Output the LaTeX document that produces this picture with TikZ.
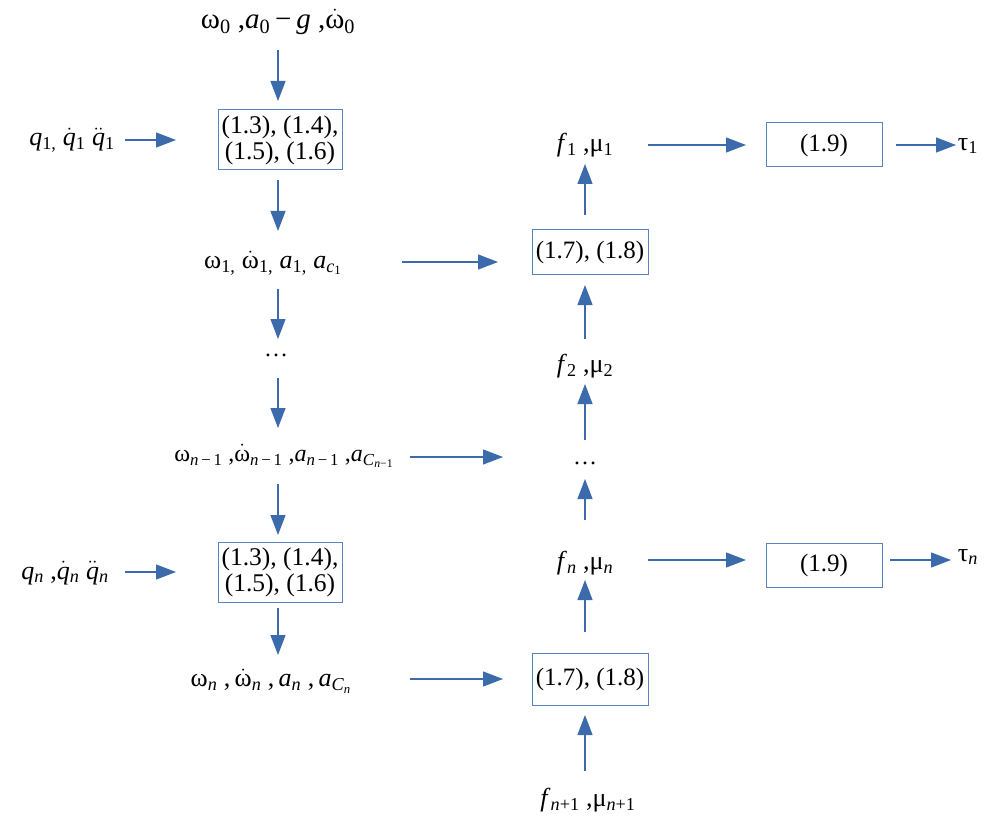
\documentclass[tikz,border=0pt]{standalone}
\usepackage{amsmath}
\usepackage{fontspec}
\setmainfont{Liberation Serif}
\usetikzlibrary{arrows.meta}
\definecolor{arr}{HTML}{3B6BAA}
\definecolor{bx}{HTML}{5B82C0}
\newcommand\dt[1]{\ensuremath{\dot{\text{#1}}}}
\newcommand\ddt[1]{\ensuremath{\ddot{\text{#1}}}}
\newcommand\sbs[1]{\textsubscript{#1}}
\newcommand\ii[1]{\textit{#1}}
\begin{document}
\begin{tikzpicture}[x=1pt,y=-1pt,
  flow/.style={draw=arr, line width=1.2pt, -{Triangle[length=20pt,width=15pt]}},
  eqbox/.style={draw=bx, line width=1pt, inner sep=2pt, align=center, font=\fontsize{25.5}{26}\selectfont},
  eqbox2/.style={draw=bx, line width=1pt, align=center, font=\fontsize{25}{26}\selectfont},
  lbl/.style={inner sep=1pt, font=\fontsize{26}{28}\selectfont},
  slbl/.style={inner sep=1pt, font=\fontsize{24}{26}\selectfont}]
\useasboundingbox (0,0) rectangle (1004,821);
% left column
\node[lbl, font=\fontsize{29}{30}\selectfont] (top) at (278,22) {ω\sbs{0} ,\ii{a}\sbs{0}\,−\,\ii{g} ,\dt{ω}\sbs{0}};
\node[eqbox, minimum width=124pt, minimum height=60pt] (b1) at (280,140) {(1.3), (1.4),\\(1.5), (1.6)};
\node[lbl] (q1) at (72,140) {\ii{q}\sbs{1,} \dt{\ii{q}}\sbs{1} \ddt{\ii{q}}\sbs{1}};
\node[slbl, font=\fontsize{26}{28}\selectfont] (w1) at (273,263) {ω\sbs{1,} \dt{ω}\sbs{1,} \ii{a}\sbs{1,} \ii{a}\sbs{\ii{c}\sbs{1}}};
\node[slbl] (d1) at (276,355) {…};
\node[slbl] (wn1) at (284,456) {ω\sbs{\ii{n}\,−\,1} ,\dt{ω}\sbs{\ii{n}\,−\,1} ,\ii{a}\sbs{\ii{n}\,−\,1} ,\ii{a}\sbs{\ii{C}\sbs{\ii{n}−1}}};
\node[eqbox, minimum width=124pt, minimum height=60pt] (b2) at (280,572) {(1.3), (1.4),\\(1.5), (1.6)};
\node[lbl] (qn) at (65,573) {\ii{q}\sbs{\ii{n}} ,\dt{\ii{q}}\sbs{\ii{n}} \ddt{\ii{q}}\sbs{\ii{n}}};
\node[slbl, font=\fontsize{26}{28}\selectfont] (wn) at (271,681) {ω\sbs{\ii{n}} ,\,\dt{ω}\sbs{\ii{n}} ,\,\ii{a}\sbs{\ii{n}} ,\,\ii{a}\sbs{\ii{C}\sbs{\ii{n}}}};
% right column
\node[eqbox2, minimum width=116pt, minimum height=52pt] (r2) at (590,679) {(1.7), (1.8)};
\node[lbl] (fn1) at (588,800) {\ii{f}\sbs{\ii{n}+1} ,μ\sbs{\ii{n}+1}};
\node[lbl] (fn) at (585,563) {\ii{f}\sbs{\ii{n}} ,μ\sbs{\ii{n}}};
\node[eqbox2, minimum width=116pt, minimum height=44pt] (e2) at (824,565) {(1.9)};
\node[lbl] (taun) at (968,557) {τ\sbs{\ii{n}}};
\node[slbl] (d2) at (585,463) {…};
\node[lbl] (f2) at (585,366) {\ii{f}\sbs{2} ,μ\sbs{2}};
\node[eqbox2, minimum width=116pt, minimum height=44pt] (r1) at (590,252) {(1.7), (1.8)};
\node[lbl] (f1) at (585,145) {\ii{f}\sbs{1} ,μ\sbs{1}};
\node[eqbox2, minimum width=116pt, minimum height=44pt] (e1) at (824,145) {(1.9)};
\node[lbl] (tau1) at (968,146) {τ\sbs{1}};
% coordinates for free arrow ends
\coordinate (a1s) at (278,50); \coordinate (a1e) at (278,101);
\coordinate (a2s) at (278,180); \coordinate (a2e) at (278,231);
\coordinate (a3s) at (278,289); \coordinate (a3e) at (278,339);
\coordinate (a4s) at (278,378); \coordinate (a4e) at (278,428);
\coordinate (a5s) at (278,484); \coordinate (a5e) at (278,535);
\coordinate (a6s) at (278,608); \coordinate (a6e) at (278,655);
\coordinate (h1s) at (125,140); \coordinate (h1e) at (176,140);
\coordinate (h2s) at (125,572); \coordinate (h2e) at (176,572);
\coordinate (h3s) at (402,262); \coordinate (h3e) at (498,262);
\coordinate (h4s) at (410,457); \coordinate (h4e) at (503,457);
\coordinate (h5s) at (410,679); \coordinate (h5e) at (503,679);
\coordinate (u1s) at (585,771); \coordinate (u1e) at (585,715);
\coordinate (u2s) at (585,632); \coordinate (u2e) at (585,580);
\coordinate (u3s) at (585,520); \coordinate (u3e) at (585,479);
\coordinate (u4s) at (585,440); \coordinate (u4e) at (585,384);
\coordinate (u5s) at (585,339); \coordinate (u5e) at (585,285);
\coordinate (u6s) at (585,215); \coordinate (u6e) at (585,164);
\coordinate (g1s) at (648,145); \coordinate (g1e) at (746,145);
\coordinate (g2s) at (896,145); \coordinate (g2e) at (956,145);
\coordinate (g3s) at (648,560); \coordinate (g3e) at (746,560);
\coordinate (g4s) at (890,560); \coordinate (g4e) at (951,560);
\foreach \p in {a1,a2,a3,a4,a5,a6,h1,h2,h3,h4,h5,u1,u2,u3,u4,u5,u6,g1,g2,g3,g4}
  \draw[flow] (\p s) -- (\p e);
\end{tikzpicture}
\end{document}
